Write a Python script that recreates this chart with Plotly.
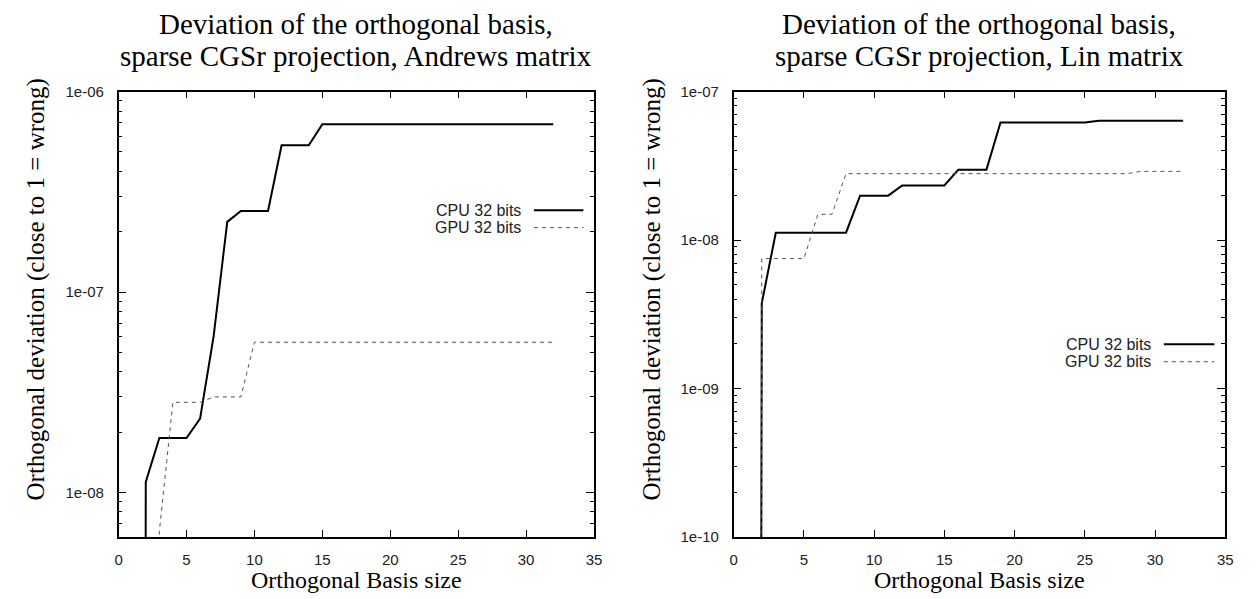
import plotly.graph_objects as go

# ---- data ----
basis_size = list(range(1, 33))

andrews_cpu = [1e-60, 1.13e-8, 1.87e-8, 1.87e-8, 1.87e-8, 2.34e-8, 6.05e-8, 2.24e-7,
               2.54e-7, 2.54e-7, 2.54e-7, 5.4e-7, 5.4e-7, 5.4e-7] + [6.87e-7] * 18
andrews_gpu = [1e-60, 1e-60, 6.4e-9, 2.82e-8, 2.82e-8, 2.82e-8, 3.0e-8, 3.0e-8, 3.0e-8] + [5.62e-8] * 23

lin_cpu = [1e-60, 3.75e-9, 1.12e-8, 1.12e-8, 1.12e-8, 1.12e-8, 1.12e-8, 1.12e-8,
           1.99e-8, 1.99e-8, 1.99e-8, 2.33e-8, 2.33e-8, 2.33e-8, 2.33e-8, 2.98e-8,
           2.98e-8, 2.98e-8, 6.2e-8, 6.2e-8, 6.2e-8, 6.2e-8, 6.2e-8, 6.2e-8, 6.2e-8,
           6.35e-8, 6.35e-8, 6.35e-8, 6.35e-8, 6.35e-8, 6.35e-8, 6.35e-8]
lin_gpu = [1e-60, 7.5e-9, 7.5e-9, 7.5e-9, 7.5e-9, 1.49e-8, 1.49e-8] + [2.8e-8] * 21 + [2.9e-8] * 4

series_names = ["CPU 32 bits", "GPU 32 bits"]
title_lines = [["Deviation of the orthogonal basis,", "sparse CGSr projection, Andrews matrix"],
               ["Deviation of the orthogonal basis,", "sparse CGSr projection, Lin matrix"]]
x_title = "Orthogonal Basis size"
y_title = "Orthogonal deviation (close to 1 = wrong)"

left_y_tickvals = [1e-8, 1e-7, 1e-6]
left_y_ticktext = ["1e-08", "1e-07", "1e-06"]
right_y_tickvals = [1e-10, 1e-9, 1e-8, 1e-7]
right_y_ticktext = ["1e-10", "1e-09", "1e-08", "1e-07"]
x_tickvals = [0, 5, 10, 15, 20, 25, 30, 35]

W, H = 1257, 599
SERIF = "Liberation Serif, Times New Roman, serif"
SANS = "Liberation Sans, Arial, sans-serif"

cpu_style = dict(color="black", width=2)
gpu_style = dict(color="#555555", width=1, dash="4px,4px")

fig = go.Figure()
fig.add_trace(go.Scatter(x=basis_size, y=andrews_cpu, mode="lines", line=cpu_style,
                         name=series_names[0], xaxis="x", yaxis="y", showlegend=False))
fig.add_trace(go.Scatter(x=basis_size, y=andrews_gpu, mode="lines", line=gpu_style,
                         name=series_names[1], xaxis="x", yaxis="y", showlegend=False))
fig.add_trace(go.Scatter(x=basis_size, y=lin_cpu, mode="lines", line=cpu_style,
                         name=series_names[0], xaxis="x2", yaxis="y2", showlegend=False))
fig.add_trace(go.Scatter(x=basis_size, y=lin_gpu, mode="lines", line=gpu_style,
                         name=series_names[1], xaxis="x2", yaxis="y2", showlegend=False))

left_dom = [115.7 / W, 595.7 / W]
right_dom = [736.7 / W, 1233.0 / W]
y_dom = [1 - 543.3 / H, 1 - 85.0 / H]

TICKFONT = dict(family=SANS, size=15, color="#222")
common_x = dict(range=[0, 35], tickvals=x_tickvals, showline=True, linecolor="black",
                linewidth=1.5, mirror="allticks", ticks="inside", ticklen=7,
                tickcolor="black", showgrid=False, zeroline=False,
                ticklabelstandoff=8, tickfont=TICKFONT)
common_y = dict(type="log", showline=True, linecolor="black", linewidth=1.5,
                mirror="allticks", ticks="inside", ticklen=8, tickcolor="black",
                showgrid=False, zeroline=False, ticklabelstandoff=10,
                tickfont=TICKFONT,
                minor=dict(ticks="inside", ticklen=4, tickcolor="black", dtick="D1",
                           showgrid=False))

fig.update_layout(
    width=W, height=H, margin=dict(l=0, r=0, t=0, b=0),
    paper_bgcolor="white", plot_bgcolor="white", showlegend=False,
    xaxis=dict(domain=left_dom, anchor="y", **common_x),
    yaxis=dict(domain=y_dom, anchor="x", range=[-8.221, -6],
               tickvals=left_y_tickvals, ticktext=left_y_ticktext, **common_y),
    xaxis2=dict(domain=right_dom, anchor="y2", **common_x),
    yaxis2=dict(domain=y_dom, anchor="x2", range=[-10, -7],
                tickvals=right_y_tickvals, ticktext=right_y_ticktext, **common_y),
)

ann = []
for i, dom in enumerate([left_dom, right_dom]):
    cx = (dom[0] + dom[1]) / 2
    for line, yc in zip(title_lines[i], [15, 48]):
        ann.append(dict(text=line, x=cx, y=1 - yc / H, xref="paper", yref="paper",
                        xanchor="center", yanchor="middle", showarrow=False, borderpad=0,
                        font=dict(family=SERIF, size=29, color="black")))
    ann.append(dict(text=x_title, x=cx, y=1 - 588 / H, xref="paper", yref="paper",
                    xanchor="center", yanchor="middle", showarrow=False, borderpad=0,
                    font=dict(family=SERIF, size=24, color="black")))
for xc in [32, 654]:
    ann.append(dict(text=y_title, x=xc / W, y=1 - 289 / H, xref="paper", yref="paper",
                    textangle=-90, xanchor="center", yanchor="middle", showarrow=False,
                    borderpad=0, font=dict(family=SERIF, size=25, color="black")))

# custom gnuplot-style legends (text right-aligned, sample on the right)
legend_pos = [
    dict(text_x=523, line_x=(535, 585), ys=(207, 225)),
    dict(text_x=1159, line_x=(1171, 1222), ys=(345, 363)),
]
shapes = []
for lp in legend_pos:
    for name, yy, st in zip(series_names, lp["ys"], [cpu_style, gpu_style]):
        ann.append(dict(text=name, x=lp["text_x"] / W, y=1 - yy / H, xref="paper",
                        yref="paper", xanchor="right", yanchor="middle", showarrow=False,
                        borderpad=0, font=dict(family=SANS, size=16, color="#222")))
        shapes.append(dict(type="line", xref="paper", yref="paper",
                           x0=lp["line_x"][0] / W, x1=lp["line_x"][1] / W,
                           y0=1 - yy / H, y1=1 - yy / H, line=st))

fig.update_layout(annotations=ann, shapes=shapes)
fig.write_html("out.html")
